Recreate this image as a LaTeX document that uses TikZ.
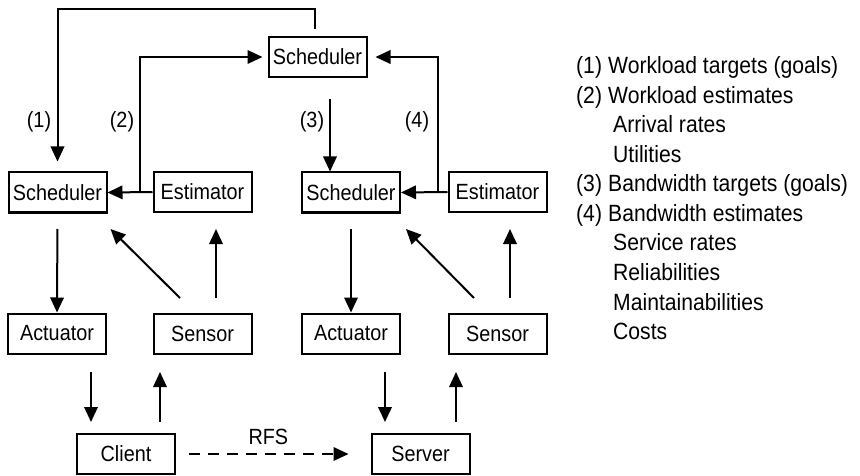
\documentclass[tikz,border=0pt]{standalone}
\usepackage{fontspec}
\setmainfont{Liberation Sans}[FakeStretch=0.9]
\usetikzlibrary{arrows.meta,calc}
\begin{document}
\begin{tikzpicture}[x=1pt,y=-1pt,
  txt/.style={font=\fontsize{22}{26}\selectfont},
  box/.style={txt, draw, line width=2pt, minimum width=98pt, minimum height=40pt, inner sep=0pt},
  conn/.style={line width=2pt, -{Triangle[length=15pt,width=13.5pt]}},
  lbl/.style={txt, inner sep=0pt},
  leg/.style={font=\fontsize{23.5}{28}\selectfont, inner sep=0pt, anchor=base west}]
\useasboundingbox (0,0) rectangle (860,476);

% boxes
\node[box] (tS) at (317.5,57)    {Scheduler};
\node[box] (lS) at (57.5,192.5)  {Scheduler};
\node[box] (lE) at (202.5,192)   {Estimator};
\node[box] (mS) at (351,192.5)   {Scheduler};
\node[box] (rE) at (497.5,192)   {Estimator};
\node[box] (lA) at (57,333.5)    {Actuator};
\node[box] (lN) at (202.5,333.5) {Sensor};
\node[box] (rA) at (351,333.5)   {Actuator};
\node[box] (rN) at (497.5,333.5) {Sensor};
\node[box] (cl) at (126,454)     {Client};
\node[box] (sv) at (420.5,454)   {Server};

% (1) workload targets
\coordinate (c1) at (57.5,9);
\draw[conn, shorten <=7pt, shorten >=10pt] ([xshift=-2.5pt]tS.north) |- (c1) -- (lS.north);
% (2) workload estimates
\coordinate (j2) at (140,192.5);
\draw[conn] (lE.west) -- (lS.east);
\draw[conn, shorten >=5pt] (j2) |- (tS.west);
% (4) bandwidth estimates
\coordinate (j4) at (438,192.5);
\draw[conn] (rE.west) -- (mS.east);
\draw[conn, shorten >=8pt] (j4) |- (tS.east);
% (3) bandwidth targets
\coordinate (s3) at (330,99);
\draw[conn] (s3) -- (s3 |- mS.north);

\node[lbl] (n1) at (39,122)  {(1)};
\node[lbl] (n2) at (122,122) {(2)};
\node[lbl] (n3) at (312,122) {(3)};
\node[lbl] (n4) at (417,122) {(4)};

% scheduler -> actuator
\draw[conn, shorten <=15.5pt] (lS.south) -- (lA.north);
\draw[conn, shorten <=15.5pt] (mS.south) -- (rA.north);
% sensor -> scheduler, sensor -> estimator
\draw[conn] ([shift={(-22.5,-14.5)}]lN.north) -- ([shift={(3,15.5)}]lS.south east);
\draw[conn] ([shift={(13.5,-14.5)}]lN.north) -- ([shift={(13.5,16)}]lE.south);
\draw[conn] ([shift={(-23.5,-14.5)}]rN.north) -- ([shift={(5,15.5)}]mS.south east);
\draw[conn] ([shift={(12.5,-14.5)}]rN.north) -- ([shift={(12.5,16)}]rE.south);

% actuator -> client/server, client/server -> sensor
\draw[conn] ([shift={(34,17.5)}]lA.south) -- ([shift={(-35,-11)}]cl.north);
\draw[conn] ([shift={(34,-11)}]cl.north) -- ([shift={(-42.5,17.5)}]lN.south);
\draw[conn] ([shift={(34,17.5)}]rA.south) -- ([shift={(-35.5,-11)}]sv.north);
\draw[conn] ([shift={(35.5,-11)}]sv.north) -- ([shift={(-41.5,17.5)}]rN.south);

% request flow
\draw[conn, dash pattern=on 11pt off 8pt, shorten <=13pt, shorten >=22pt] (cl.east) -- (sv.west)
  node[lbl, pos=0.475, yshift=17pt] (rfs) {RFS};

% legend
\node[leg] (g1) at (576,74)    {(1)};
\node[leg] (g1t) at (608,74)   {Workload targets (goals)};
\node[leg] (g2) at (576,103.5) {(2)};
\node[leg] (g2t) at (608,103.5) {Workload estimates};
\node[leg] (g2a) at (613,133)  {Arrival rates};
\node[leg] (g2b) at (613,162.5) {Utilities};
\node[leg] (g3) at (576,192)   {(3)};
\node[leg] (g3t) at (608,192)  {Bandwidth targets (goals)};
\node[leg] (g4) at (576,221.5) {(4)};
\node[leg] (g4t) at (608,221.5) {Bandwidth estimates};
\node[leg] (g4a) at (613,251)  {Service rates};
\node[leg] (g4b) at (613,280.5) {Reliabilities};
\node[leg] (g4c) at (613,310)  {Maintainabilities};
\node[leg] (g4d) at (613,339.5) {Costs};
\end{tikzpicture}
\end{document}
